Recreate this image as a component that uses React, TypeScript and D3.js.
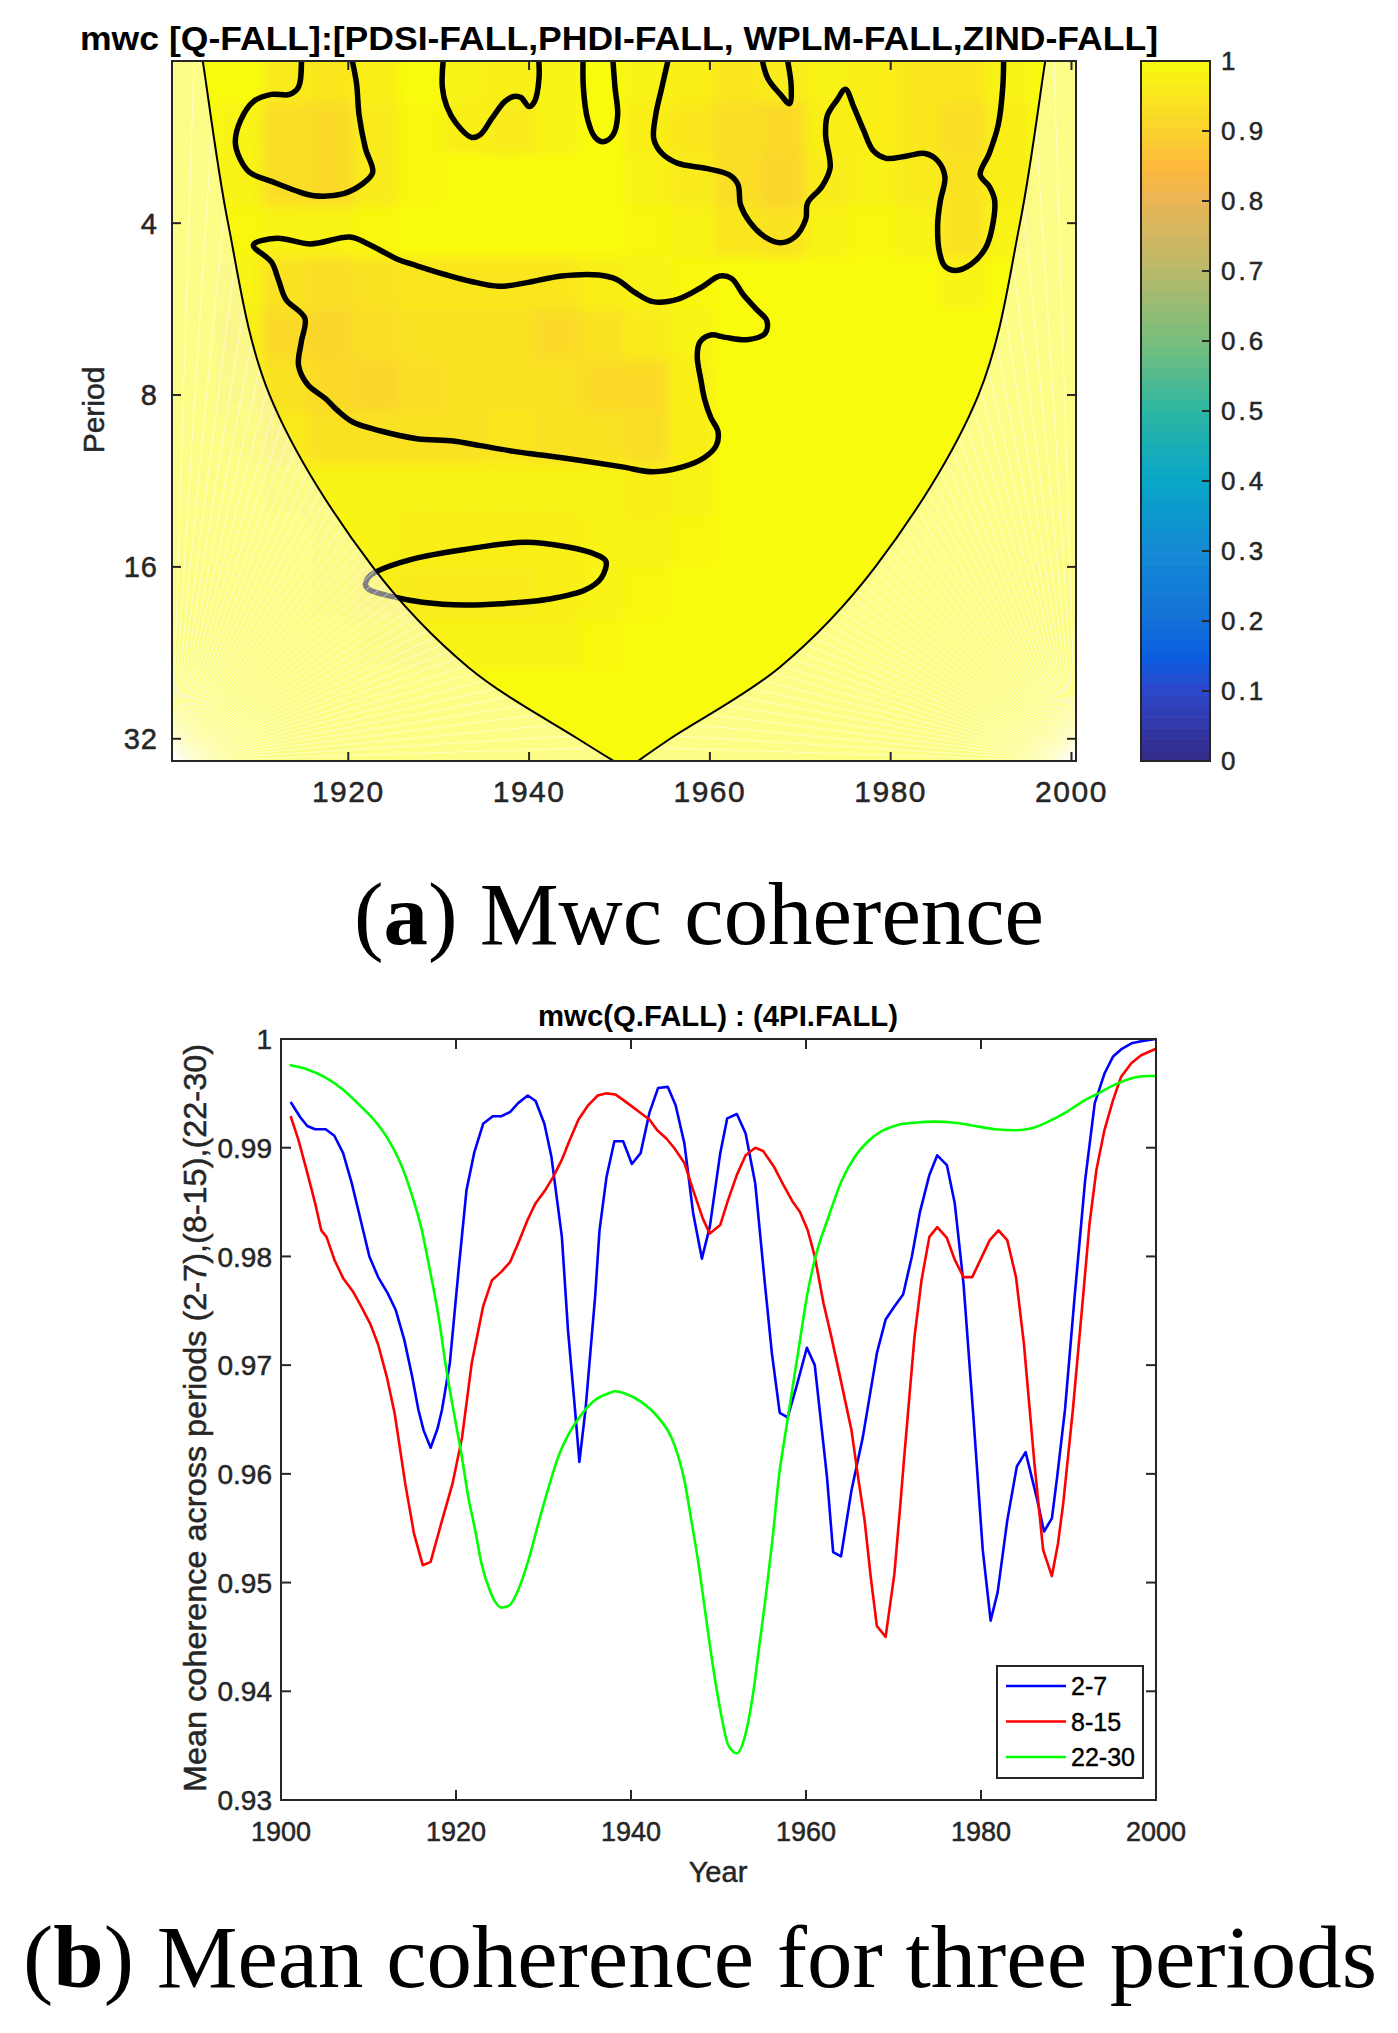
import React from "react";
import * as d3 from "d3";

// ---------- panel (a): wavelet coherence ----------
const heatYears = [1903, 1908, 1913, 1918, 1923, 1928, 1933, 1938, 1943, 1948, 1953, 1958, 1963, 1968, 1973, 1978, 1983, 1988, 1993, 1998];
const heatLog2Periods = [1.15, 1.45, 1.75, 2.05, 2.35, 2.65, 2.95, 3.25, 3.55, 3.85, 4.15, 4.45, 4.75, 5.05];
const heatValues = [
  [1, 1, 0.96, 0.95, 0.97, 1, 0.98, 0.97, 0.98, 1, 0.98, 0.97, 0.95, 0.96, 0.98, 0.97, 0.95, 0.95, 0.98, 1],
  [1, 0.98, 0.93, 0.92, 0.96, 0.99, 0.97, 0.96, 0.98, 1, 0.97, 0.95, 0.93, 0.92, 0.97, 0.97, 0.95, 0.93, 0.97, 1],
  [1, 0.98, 0.93, 0.92, 0.96, 0.99, 1, 1, 1, 1, 0.98, 0.96, 0.93, 0.91, 0.96, 0.98, 0.96, 0.94, 0.97, 1],
  [1, 0.99, 0.98, 0.98, 0.99, 1, 1, 1, 1, 1, 0.99, 0.98, 0.95, 0.94, 0.98, 0.99, 0.98, 0.94, 0.98, 1],
  [1, 0.98, 0.94, 0.93, 0.94, 0.95, 0.95, 0.95, 0.95, 0.97, 0.98, 0.99, 1, 1, 1, 1, 1, 0.98, 1, 1],
  [1, 0.97, 0.92, 0.91, 0.93, 0.94, 0.94, 0.94, 0.92, 0.94, 0.96, 0.98, 1, 1, 1, 1, 1, 1, 1, 1],
  [1, 0.98, 0.94, 0.92, 0.91, 0.93, 0.94, 0.94, 0.94, 0.92, 0.92, 0.97, 1, 1, 1, 1, 1, 1, 1, 1],
  [1, 0.99, 0.96, 0.94, 0.94, 0.94, 0.94, 0.95, 0.94, 0.94, 0.93, 0.97, 1, 1, 1, 1, 1, 1, 1, 1],
  [1, 1, 0.99, 0.98, 0.98, 0.98, 0.98, 0.98, 0.98, 0.98, 0.97, 0.98, 1, 1, 1, 1, 1, 1, 1, 1],
  [1, 1, 1, 0.99, 0.98, 0.97, 0.97, 0.97, 0.97, 0.98, 0.98, 0.99, 1, 1, 1, 1, 1, 1, 1, 1],
  [1, 1, 1, 0.99, 0.97, 0.96, 0.96, 0.96, 0.97, 0.98, 0.99, 1, 1, 1, 1, 1, 1, 1, 1, 1],
  [1, 1, 1, 1, 0.99, 0.98, 0.98, 0.98, 0.98, 0.99, 1, 1, 1, 1, 1, 1, 1, 1, 1, 1],
  [1, 1, 1, 1, 1, 1, 1, 1, 1, 1, 1, 1, 1, 1, 1, 1, 1, 1, 1, 1],
  [1, 1, 1, 1, 1, 1, 1, 1, 1, 1, 1, 1, 1, 1, 1, 1, 1, 1, 1, 1],
];

// cone of influence
const coiPeriods = [2.0, 2.08, 4, 8, 16, 24, 32, 35.5];
const coiLeftYears = [1903.7, 1903.9, 1906.7, 1911.3, 1922.7, 1933.3, 1945.4, 1950.0];
const coiRightYears = [1997.3, 1997.1, 1994.3, 1989.7, 1978.3, 1967.7, 1955.6, 1951.5];

// significance contours [year, period]
const contourA: [number, number][] = [
  [1914.8, 2.0], [1914.5, 2.31], [1913.5, 2.38], [1911.5, 2.38], [1909.5, 2.45], [1908.1, 2.64], [1907.5, 2.88],
  [1908.0, 3.08], [1909.1, 3.26], [1911.5, 3.38], [1914.2, 3.51], [1916.2, 3.58], [1919.5, 3.55], [1921.5, 3.42],
  [1922.7, 3.26], [1921.9, 2.96], [1921.2, 2.59], [1920.9, 2.27], [1920.2, 2.0],
];
const contourB: [number, number][] = [
  [1930.6, 2.0], [1930.4, 2.31], [1930.9, 2.5], [1931.9, 2.67], [1933.6, 2.83], [1934.6, 2.8], [1935.9, 2.62],
  [1937.3, 2.45], [1938.3, 2.4], [1939.1, 2.41], [1940.0, 2.5], [1940.6, 2.45], [1941.1, 2.23], [1941.0, 2.0],
];
const contourC: [number, number][] = [
  [1946.0, 2.0], [1946.0, 2.31], [1946.5, 2.64], [1947.3, 2.83], [1948.2, 2.88], [1949.3, 2.8], [1949.8, 2.59],
  [1949.5, 2.31], [1949.2, 2.0],
];
const contourD: [number, number][] = [
  [1955.6, 2.0], [1954.7, 2.31], [1954.0, 2.59], [1953.8, 2.85], [1954.7, 3.02], [1956.4, 3.14], [1959.7, 3.21],
  [1962.1, 3.29], [1963.1, 3.42], [1963.4, 3.72], [1964.4, 3.98], [1966.1, 4.23], [1967.8, 4.33], [1969.4, 4.23],
  [1970.6, 3.94], [1970.8, 3.69], [1972.4, 3.45], [1973.3, 3.2], [1972.8, 2.8], [1973.0, 2.59], [1974.1, 2.43],
  [1975.0, 2.33], [1975.9, 2.5], [1977.0, 2.75], [1978.1, 2.99], [1979.5, 3.08], [1981.8, 3.05], [1983.8, 3.02],
  [1985.2, 3.11], [1986.0, 3.32], [1985.5, 3.65], [1985.2, 4.01], [1985.4, 4.5], [1986.0, 4.76], [1987.2, 4.84],
  [1988.9, 4.72], [1990.5, 4.42], [1991.2, 4.09], [1991.5, 3.65], [1990.9, 3.45], [1989.9, 3.29], [1990.9, 3.02],
  [1991.9, 2.69], [1992.4, 2.31], [1992.5, 2.0],
];
const contourE: [number, number][] = [
  [1965.6, 2.0], [1966.4, 2.23], [1967.8, 2.38], [1968.8, 2.47], [1969.0, 2.31], [1968.4, 2.0],
];
const contourF: [number, number][] = [
  [1909.5, 4.37], [1912.1, 4.25], [1915.8, 4.35], [1920.2, 4.23], [1922.2, 4.35], [1925.5, 4.63], [1927.6, 4.75],
  [1930.9, 4.93], [1933.6, 5.06], [1936.6, 5.16], [1939.6, 5.09], [1943.6, 4.95], [1947.7, 4.93], [1949.7, 5.02],
  [1951.7, 5.29], [1953.7, 5.49], [1956.4, 5.44], [1959.0, 5.19], [1961.1, 4.95], [1962.4, 5.0], [1963.7, 5.34],
  [1965.1, 5.65], [1966.3, 5.93], [1966.1, 6.24], [1964.1, 6.4], [1961.7, 6.34], [1960.1, 6.28], [1958.9, 6.46],
  [1958.6, 6.84], [1959.0, 7.52], [1959.4, 8.12], [1960.1, 8.76], [1960.9, 9.27], [1960.7, 9.81], [1959.4, 10.29],
  [1957.0, 10.69], [1953.7, 10.9], [1950.3, 10.69], [1946.3, 10.45], [1941.6, 10.2], [1938.3, 10.04], [1934.6, 9.81],
  [1931.6, 9.63], [1927.6, 9.54], [1923.5, 9.24], [1920.5, 8.92], [1918.8, 8.51], [1917.5, 8.12], [1915.5, 7.67],
  [1914.5, 7.1], [1914.8, 6.46], [1915.2, 5.87], [1913.1, 5.44], [1912.3, 5.04], [1911.5, 4.68],
];
const contourG: [number, number][] = [
  [1923.0, 16.34], [1927.2, 15.49], [1932.9, 14.91], [1939.6, 14.49], [1944.3, 14.77], [1947.3, 15.2], [1948.5, 15.64],
  [1948.0, 16.71], [1946.3, 17.53], [1942.3, 18.21], [1936.9, 18.56], [1932.9, 18.66], [1928.2, 18.45], [1924.9, 18.04],
  [1922.3, 17.53], [1921.9, 17.2], [1922.2, 16.71],
];
const openContours = [contourA, contourB, contourC, contourD, contourE];
const closedContours = [contourF, contourG];

const periodTicks = [4, 8, 16, 32];
const yearTicksA = [1920, 1940, 1960, 1980, 2000];

// colour bar
const cbStops = [0, 0.1, 0.15, 0.2, 0.3, 0.4, 0.5, 0.6, 0.7, 0.8, 0.85, 0.9, 1];
const cbColors = ["#352a87", "#2d46c8", "#0b5fe0", "#1470d8", "#1389d3", "#09a6c8", "#2cb6a2", "#78be7c", "#b7b96b", "#eab555", "#fdb83c", "#fad22f", "#f9fb0e"];
const cbTicks = [0, 0.1, 0.2, 0.3, 0.4, 0.5, 0.6, 0.7, 0.8, 0.9, 1];

// ---------- panel (b): mean coherence ----------
const blueYears = [1901.1, 1902.2, 1903.0, 1903.9, 1905.1, 1906.1, 1907.1, 1908.1, 1909.0, 1910.1, 1911.1, 1912.2, 1913.1, 1914.1, 1915.0, 1915.7, 1916.3, 1917.1, 1917.9, 1918.4, 1919.3, 1920.3, 1921.2, 1922.1, 1923.1, 1924.2, 1925.2, 1926.2, 1927.1, 1928.2, 1929.1, 1930.1, 1930.9, 1932.1, 1932.8, 1933.6, 1934.1, 1934.8, 1935.9, 1936.4, 1937.2, 1938.1, 1939.1, 1940.1, 1941.1, 1942.1, 1943.1, 1944.2, 1945.1, 1946.1, 1947.1, 1948.1, 1949.0, 1950.2, 1951.0, 1952.1, 1953.1, 1954.2, 1955.3, 1956.1, 1957.0, 1957.9, 1958.9, 1960.1, 1961.0, 1962.4, 1963.1, 1964.0, 1965.2, 1966.5, 1968.1, 1969.1, 1970.1, 1971.1, 1972.1, 1973.0, 1974.1, 1975.0, 1976.1, 1977.0, 1978.0, 1979.1, 1980.2, 1981.1, 1981.9, 1983.0, 1984.1, 1985.1, 1986.4, 1987.2, 1988.1, 1988.7, 1989.6, 1990.7, 1991.9, 1993.0, 1994.1, 1995.1, 1996.1, 1997.2, 1998.3, 2000.0];
const blueVals = [0.9942, 0.9928, 0.992, 0.9917, 0.9917, 0.9911, 0.9895, 0.9867, 0.9837, 0.98, 0.9781, 0.9766, 0.9751, 0.9723, 0.9689, 0.9659, 0.964, 0.9624, 0.9642, 0.9659, 0.9702, 0.9788, 0.9861, 0.9896, 0.9922, 0.9929, 0.9929, 0.9933, 0.9941, 0.9948, 0.9943, 0.9922, 0.9892, 0.9818, 0.9732, 0.9659, 0.9611, 0.9659, 0.9763, 0.9824, 0.9873, 0.9906, 0.9906, 0.9885, 0.9895, 0.9932, 0.9955, 0.9956, 0.9939, 0.9904, 0.984, 0.9798, 0.9827, 0.9895, 0.9927, 0.9931, 0.9913, 0.9867, 0.9775, 0.9711, 0.9656, 0.9652, 0.968, 0.9716, 0.97, 0.9597, 0.9528, 0.9524, 0.9585, 0.9634, 0.9711, 0.9742, 0.9754, 0.9765, 0.98, 0.984, 0.9875, 0.9893, 0.9884, 0.9849, 0.9775, 0.9656, 0.953, 0.9465, 0.9491, 0.9557, 0.9607, 0.962, 0.9577, 0.9547, 0.9559, 0.9597, 0.9659, 0.9763, 0.987, 0.9941, 0.9968, 0.9984, 0.9991, 0.9996, 0.9998, 1.0];

const redYears = [1901.1, 1902.0, 1902.9, 1903.9, 1904.6, 1905.2, 1906.1, 1907.1, 1908.2, 1909.1, 1910.2, 1911.1, 1912.1, 1913.0, 1914.2, 1915.2, 1916.2, 1917.1, 1918.4, 1919.6, 1920.7, 1921.8, 1922.4, 1923.1, 1924.1, 1925.2, 1926.2, 1927.1, 1928.2, 1929.1, 1930.2, 1931.1, 1932.1, 1933.0, 1934.0, 1935.1, 1936.2, 1937.2, 1938.2, 1939.1, 1940.1, 1941.1, 1942.1, 1943.0, 1944.1, 1945.0, 1946.1, 1947.1, 1948.2, 1949.0, 1950.2, 1951.1, 1952.1, 1953.1, 1954.2, 1955.1, 1956.3, 1957.4, 1958.5, 1959.3, 1960.2, 1961.0, 1962.0, 1962.9, 1963.9, 1965.2, 1965.9, 1966.7, 1967.4, 1968.1, 1969.1, 1970.1, 1970.7, 1971.2, 1972.4, 1973.2, 1974.1, 1975.0, 1976.1, 1977.0, 1978.0, 1979.0, 1980.0, 1981.0, 1982.0, 1983.0, 1984.0, 1984.9, 1986.1, 1987.1, 1988.1, 1988.8, 1989.4, 1990.5, 1991.5, 1992.4, 1993.2, 1994.1, 1995.1, 1996.0, 1997.2, 1998.3, 2000.0];
const redVals = [0.9929, 0.9907, 0.988, 0.9849, 0.9824, 0.9818, 0.9797, 0.978, 0.9768, 0.9755, 0.9738, 0.9719, 0.9689, 0.9655, 0.9591, 0.9545, 0.9516, 0.9519, 0.9557, 0.9591, 0.9634, 0.9702, 0.9726, 0.9754, 0.9778, 0.9786, 0.9795, 0.9812, 0.9834, 0.9849, 0.9861, 0.9873, 0.9889, 0.9907, 0.9926, 0.9939, 0.9948, 0.995, 0.9949, 0.9944, 0.9938, 0.9932, 0.9926, 0.9916, 0.9908, 0.9899, 0.9886, 0.9861, 0.9835, 0.9821, 0.9829, 0.9852, 0.9875, 0.9893, 0.99, 0.9897, 0.9883, 0.9866, 0.985, 0.9841, 0.9824, 0.98, 0.9757, 0.9726, 0.9689, 0.964, 0.96, 0.9557, 0.9505, 0.946, 0.945, 0.9508, 0.9564, 0.9613, 0.9726, 0.9778, 0.9818, 0.9827, 0.9817, 0.9797, 0.9781, 0.9781, 0.9798, 0.9815, 0.9824, 0.9815, 0.9781, 0.972, 0.961, 0.953, 0.9506, 0.9536, 0.9573, 0.9659, 0.9748, 0.983, 0.988, 0.9916, 0.9944, 0.9965, 0.9978, 0.9985, 0.9991];

const greenYears = [1901, 1903, 1905, 1907, 1909, 1911, 1912.3, 1913.8, 1914.9, 1916.1, 1917, 1918, 1918.9, 1919.9, 1920.6, 1921.4, 1922.2, 1922.9, 1923.9, 1924.5, 1925.2, 1926.1, 1927.1, 1928.3, 1929.4, 1930.6, 1931.7, 1932.9, 1934.0, 1935.9, 1937.4, 1938.2, 1939.3, 1941.2, 1943.1, 1944.6, 1945.4, 1946.1, 1946.9, 1947.7, 1948.5, 1949.2, 1950.2, 1951.1, 1952.1, 1953.1, 1953.9, 1954.7, 1955.4, 1956.2, 1956.9, 1957.7, 1959.2, 1960.1, 1961.0, 1962.6, 1964.1, 1965.6, 1967.1, 1968.6, 1970.5, 1972.4, 1974.7, 1977.0, 1979.3, 1981.6, 1983.9, 1985.8, 1987.7, 1989.6, 1991.5, 1993.4, 1995.3, 1997.2, 1999.1, 2000];
const greenVals = [0.9976, 0.9972, 0.9965, 0.9954, 0.9939, 0.9922, 0.9907, 0.9883, 0.9858, 0.9824, 0.9788, 0.9745, 0.9696, 0.965, 0.9619, 0.9579, 0.9548, 0.9518, 0.9492, 0.9482, 0.9477, 0.9479, 0.9493, 0.9521, 0.9554, 0.9588, 0.9616, 0.9637, 0.9651, 0.9668, 0.9674, 0.9676, 0.9674, 0.9666, 0.9652, 0.9634, 0.9616, 0.9594, 0.9557, 0.9518, 0.9472, 0.9432, 0.9383, 0.9351, 0.9343, 0.9361, 0.9395, 0.9444, 0.9487, 0.9542, 0.9597, 0.964, 0.9717, 0.9763, 0.9797, 0.9837, 0.987, 0.9892, 0.9906, 0.9915, 0.9921, 0.9923, 0.9924, 0.9923, 0.992, 0.9917, 0.9916, 0.9918, 0.9924, 0.9932, 0.9942, 0.995, 0.9958, 0.9964, 0.9966, 0.9966];

const seriesNames = ["2-7", "8-15", "22-30"];
const seriesColors = ["#0000ff", "#ff0000", "#00ff00"];
const yearTicksB = [1900, 1920, 1940, 1960, 1980, 2000];
const valueTicksB = [0.93, 0.94, 0.95, 0.96, 0.97, 0.98, 0.99, 1];

const SANS = "'Liberation Sans', Arial, Helvetica, sans-serif";
const SERIF = "'Liberation Serif', 'Times New Roman', serif";
const AXIS = "#262626";

export default function App() {
  // ---- panel (a) geometry
  const A = { left: 172, right: 1076, top: 61, bottom: 761 };
  const xA = d3.scaleLinear().domain([1900.5, 2000.5]).range([A.left, A.right]);
  const yA = d3.scaleLog().base(2).domain([2.08, 35]).range([A.top, A.bottom]);
  const color = d3
    .scaleLinear<string>()
    .domain(cbStops)
    .range(cbColors)
    .interpolate(d3.interpolateRgb)
    .clamp(true);

  const openGen = d3
    .line<[number, number]>()
    .x((d) => xA(d[0]))
    .y((d) => yA(d[1]))
    .curve(d3.curveCatmullRom.alpha(0.5));
  const closedGen = d3
    .line<[number, number]>()
    .x((d) => xA(d[0]))
    .y((d) => yA(d[1]))
    .curve(d3.curveCatmullRomClosed.alpha(0.5));

  const coiLeft: [number, number][] = coiLeftYears.map((y, i) => [y, coiPeriods[i]]);
  const coiRight: [number, number][] = coiRightYears.map((y, i) => [y, coiPeriods[i]]);
  const coiLeftPath = openGen(coiLeft) as string;
  const coiRightPath = openGen(coiRight) as string;
  const outLeft = `${coiLeftPath}L${A.left - 5},${A.bottom + 5}L${A.left - 5},${A.top - 5}Z`;
  const outRight = `${coiRightPath}L${A.right + 5},${A.bottom + 5}L${A.right + 5},${A.top - 5}Z`;

  const fanAngles = d3.range(0, 91, 1.8).map((a) => (a * Math.PI) / 180);

  // colour bar
  const CB = { left: 1141, right: 1210, top: 61, bottom: 761 };
  const cbY = d3.scaleLinear().domain([0, 1]).range([CB.bottom, CB.top]);
  const bands = d3.range(64);

  // ---- panel (b) geometry
  const B = { left: 281, right: 1156, top: 1039, bottom: 1800 };
  const xB = d3.scaleLinear().domain([1900, 2000]).range([B.left, B.right]);
  const yB = d3.scaleLinear().domain([0.93, 1]).range([B.bottom, B.top]);
  const straight = d3
    .line<[number, number]>()
    .x((d) => xB(d[0]))
    .y((d) => yB(d[1]));
  const smooth = d3
    .line<[number, number]>()
    .x((d) => xB(d[0]))
    .y((d) => yB(d[1]))
    .curve(d3.curveMonotoneX);
  const series: [number, number][][] = [
    blueYears.map((y, i) => [y, blueVals[i]]),
    redYears.map((y, i) => [y, redVals[i]]),
    greenYears.map((y, i) => [y, greenVals[i]]),
  ];

  const tickText = { fontFamily: SANS, fill: AXIS, stroke: AXIS, strokeWidth: 0.5 };

  return (
    <svg
      width={1398}
      height={2033}
      viewBox="0 0 1398 2033"
      style={{ position: "absolute", left: 0, top: 0, background: "#fff" }}
    >
      <defs>
        <clipPath id="clipA">
          <rect x={A.left} y={A.top} width={A.right - A.left} height={A.bottom - A.top} />
        </clipPath>
        <clipPath id="clipOutL">
          <path d={outLeft} />
        </clipPath>
        <clipPath id="clipOutR">
          <path d={outRight} />
        </clipPath>
        <clipPath id="clipB">
          <rect x={B.left} y={B.top - 2} width={B.right - B.left} height={B.bottom - B.top + 2} />
        </clipPath>
        <filter id="soft" x="-5%" y="-5%" width="110%" height="110%">
          <feGaussianBlur stdDeviation="6" />
        </filter>
      </defs>

      <rect x={0} y={0} width={1398} height={2033} fill="#fff" />

      {/* ===== panel (a) ===== */}
      <text
        x={619}
        y={50}
        textAnchor="middle"
        fontFamily={SANS}
        fontWeight="bold"
        fontSize={33}
        textLength={1078}
        lengthAdjust="spacingAndGlyphs"
        fill="#000"
      >
        mwc [Q-FALL]:[PDSI-FALL,PHDI-FALL, WPLM-FALL,ZIND-FALL]
      </text>

      <g clipPath="url(#clipA)">
        <rect x={A.left} y={A.top} width={A.right - A.left} height={A.bottom - A.top} fill={color(1)} />
        <g filter="url(#soft)">
          {heatLog2Periods.map((lp, r) =>
            heatYears.map((yr, c) => {
              const x0 = xA(yr - 2.5);
              const x1 = xA(yr + 2.5);
              const y0 = yA(Math.pow(2, lp - 0.15));
              const y1 = yA(Math.pow(2, lp + 0.15));
              return (
                <rect
                  key={`h${r}-${c}`}
                  x={x0}
                  y={y0}
                  width={x1 - x0 + 0.5}
                  height={y1 - y0 + 0.5}
                  fill={color(heatValues[r][c])}
                />
              );
            })
          )}
        </g>
        {openContours.map((c, i) => (
          <path key={`oc${i}`} d={openGen(c) as string} fill="none" stroke="#000" strokeWidth={5.5} strokeLinejoin="round" />
        ))}
        {closedContours.map((c, i) => (
          <path key={`cc${i}`} d={closedGen(c) as string} fill="none" stroke="#000" strokeWidth={5.5} strokeLinejoin="round" />
        ))}
        {/* outside the cone of influence */}
        <path d={outLeft} fill="#fff" fillOpacity={0.5} />
        <path d={outRight} fill="#fff" fillOpacity={0.5} />
        <g clipPath="url(#clipOutL)">
          {fanAngles.map((t, i) => (
            <line
              key={`fl${i}`}
              x1={A.left}
              y1={A.bottom}
              x2={A.left + 1300 * Math.cos(t)}
              y2={A.bottom - 1300 * Math.sin(t)}
              stroke="#fff"
              strokeWidth={1}
              strokeOpacity={0.55}
            />
          ))}
        </g>
        <g clipPath="url(#clipOutR)">
          {fanAngles.map((t, i) => (
            <line
              key={`fr${i}`}
              x1={A.right}
              y1={A.bottom}
              x2={A.right - 1300 * Math.cos(t)}
              y2={A.bottom - 1300 * Math.sin(t)}
              stroke="#fff"
              strokeWidth={1}
              strokeOpacity={0.55}
            />
          ))}
        </g>
        <path d={coiLeftPath} fill="none" stroke="#000" strokeWidth={2} />
        <path d={coiRightPath} fill="none" stroke="#000" strokeWidth={2} />
      </g>

      {/* panel (a) axes */}
      <rect x={A.left} y={A.top} width={A.right - A.left} height={A.bottom - A.top} fill="none" stroke={AXIS} strokeWidth={2} />
      {periodTicks.map((p) => (
        <g key={`pt${p}`}>
          <line x1={A.left} x2={A.left + 9} y1={yA(p)} y2={yA(p)} stroke={AXIS} strokeWidth={2} />
          <line x1={A.right} x2={A.right - 9} y1={yA(p)} y2={yA(p)} stroke={AXIS} strokeWidth={2} />
          <text x={158} y={yA(p)} dy="0.36em" textAnchor="end" fontSize={29} letterSpacing={1} {...tickText}>
            {p}
          </text>
        </g>
      ))}
      {yearTicksA.map((t) => (
        <g key={`yt${t}`}>
          <line x1={xA(t)} x2={xA(t)} y1={A.bottom} y2={A.bottom - 9} stroke={AXIS} strokeWidth={2} />
          <line x1={xA(t)} x2={xA(t)} y1={A.top} y2={A.top + 9} stroke={AXIS} strokeWidth={2} />
          <text x={xA(t)} y={802} textAnchor="middle" fontSize={30} letterSpacing={1.5} {...tickText}>
            {t}
          </text>
        </g>
      ))}
      <text transform={`translate(104,410) rotate(-90)`} textAnchor="middle" fontSize={30} {...tickText}>
        Period
      </text>

      {/* colour bar */}
      {bands.map((i) => (
        <rect
          key={`cb${i}`}
          x={CB.left}
          y={cbY((i + 1) / 64)}
          width={CB.right - CB.left}
          height={cbY(i / 64) - cbY((i + 1) / 64) + 0.6}
          fill={color((i + 0.5) / 64)}
        />
      ))}
      <rect x={CB.left} y={CB.top} width={CB.right - CB.left} height={CB.bottom - CB.top} fill="none" stroke={AXIS} strokeWidth={2} />
      {cbTicks.map((t) => (
        <g key={`ct${t}`}>
          {t > 0 && t < 1 && (
            <line x1={CB.right} x2={CB.right - 8} y1={cbY(t)} y2={cbY(t)} stroke={AXIS} strokeWidth={2} />
          )}
          <text x={1221} y={cbY(t)} dy="0.36em" fontSize={26} letterSpacing={3} {...tickText}>
            {t}
          </text>
        </g>
      ))}

      <text x={699} y={944} textAnchor="middle" fontFamily={SERIF} fontSize={88} textLength={690} lengthAdjust="spacingAndGlyphs" fill="#000">
        (<tspan fontWeight="bold">a</tspan>) Mwc coherence
      </text>

      {/* ===== panel (b) ===== */}
      <text
        x={718}
        y={1026}
        textAnchor="middle"
        fontFamily={SANS}
        fontWeight="bold"
        fontSize={29}
        textLength={360}
        lengthAdjust="spacingAndGlyphs"
        fill="#000"
      >
        mwc(Q.FALL) : (4PI.FALL)
      </text>

      <g clipPath="url(#clipB)">
        {series.map((s, i) => (
          <path
            key={`s${i}`}
            d={(i === 2 ? smooth(s) : straight(s)) as string}
            fill="none"
            stroke={seriesColors[i]}
            strokeWidth={2.6}
            strokeLinejoin="round"
          />
        ))}
      </g>

      <rect x={B.left} y={B.top} width={B.right - B.left} height={B.bottom - B.top} fill="none" stroke={AXIS} strokeWidth={2} />
      {yearTicksB.map((t) => (
        <g key={`xb${t}`}>
          <line x1={xB(t)} x2={xB(t)} y1={B.bottom} y2={B.bottom - 10} stroke={AXIS} strokeWidth={2} />
          <line x1={xB(t)} x2={xB(t)} y1={B.top} y2={B.top + 10} stroke={AXIS} strokeWidth={2} />
          <text x={xB(t)} y={1841} textAnchor="middle" fontSize={27} {...tickText}>
            {t}
          </text>
        </g>
      ))}
      {valueTicksB.map((t) => (
        <g key={`yb${t}`}>
          <line x1={B.left} x2={B.left + 10} y1={yB(t)} y2={yB(t)} stroke={AXIS} strokeWidth={2} />
          <line x1={B.right} x2={B.right - 10} y1={yB(t)} y2={yB(t)} stroke={AXIS} strokeWidth={2} />
          <text x={272} y={yB(t)} dy="0.36em" textAnchor="end" fontSize={28} {...tickText}>
            {t}
          </text>
        </g>
      ))}
      <text x={718} y={1882} textAnchor="middle" fontSize={29} {...tickText}>
        Year
      </text>
      <text
        transform={`translate(206,1418) rotate(-90)`}
        textAnchor="middle"
        fontSize={31}
        textLength={748}
        lengthAdjust="spacingAndGlyphs"
        {...tickText}
      >
        Mean coherence across periods (2-7),(8-15),(22-30)
      </text>

      {/* legend */}
      <rect x={997} y={1666} width={146} height={112} fill="#fff" stroke={AXIS} strokeWidth={2} />
      {seriesNames.map((n, i) => (
        <g key={`lg${n}`}>
          <line x1={1006} x2={1066} y1={1686 + i * 35.5} y2={1686 + i * 35.5} stroke={seriesColors[i]} strokeWidth={2.6} />
          <text x={1071} y={1686 + i * 35.5} dy="0.36em" fontFamily={SANS} fontSize={25} fill="#000" stroke="#000" strokeWidth={0.4}>
            {n}
          </text>
        </g>
      ))}

      <text x={700} y={1987} textAnchor="middle" fontFamily={SERIF} fontSize={88} textLength={1354} lengthAdjust="spacingAndGlyphs" fill="#000">
        (<tspan fontWeight="bold">b</tspan>) Mean coherence for three periods
      </text>
    </svg>
  );
}
